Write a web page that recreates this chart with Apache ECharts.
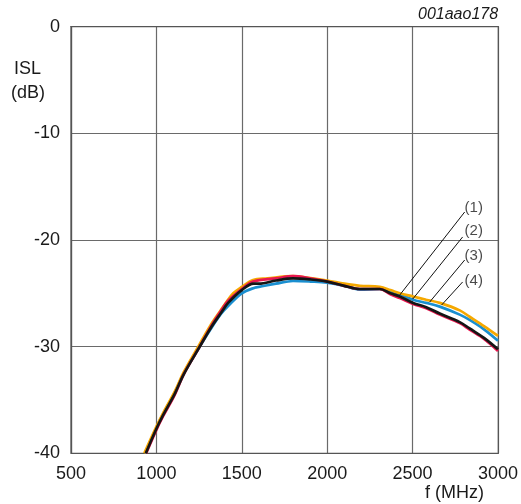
<!DOCTYPE html>
<html><head><meta charset="utf-8">
<script src="https://cdn.jsdelivr.net/npm/echarts@6/dist/echarts.min.js"></script>
<style>html,body{margin:0;padding:0;background:#fff}#c{width:521px;height:504px}</style>
</head><body><div id="c"></div>
<script>
var xTicks = [500, 1000, 1500, 2000, 2500, 3000];
var yTicks = [-40, -30, -20, -10, 0];

var curve4 = [[929,-40],[1000,-37.5],[1040,-36.2],[1108,-34.2],[1160,-32.4],[1245,-30],[1313,-28.1],[1372,-26.7],[1411,-25.8],[1450,-25.0],[1500,-24.4],[1566,-23.75],[1650,-23.6],[1800,-23.4],[1870,-23.5],[2000,-23.8],[2100,-24.1],[2191,-24.3],[2308,-24.4],[2370,-24.7],[2425,-25.0],[2503,-25.3],[2580,-25.6],[2659,-25.9],[2776,-26.6],[2834,-27.2],[2920,-28.1],[3000,-29.0]];
var curve3 = [[935,-40],[1000,-37.6],[1040,-36.3],[1108,-34.3],[1160,-32.5],[1250,-30.1],[1320,-28.3],[1380,-26.9],[1420,-26.2],[1500,-25.0],[1580,-24.45],[1600,-24.4],[1700,-24.1],[1800,-23.85],[1900,-23.9],[2000,-24.0],[2100,-24.3],[2191,-24.65],[2308,-24.6],[2370,-24.8],[2425,-25.07],[2503,-25.6],[2580,-25.9],[2659,-26.25],[2776,-27.0],[2834,-27.5],[2920,-28.4],[3000,-29.45]];
var curve2 = [[940,-40],[1000,-37.8],[1040,-36.5],[1108,-34.5],[1160,-32.6],[1250,-30.1],[1320,-28.1],[1380,-26.6],[1420,-25.7],[1500,-24.6],[1566,-23.9],[1700,-23.6],[1800,-23.4],[1900,-23.6],[2000,-23.9],[2100,-24.3],[2191,-24.6],[2308,-24.6],[2370,-25.1],[2425,-25.45],[2503,-26.0],[2580,-26.4],[2659,-27.0],[2776,-27.8],[2834,-28.4],[2920,-29.3],[3000,-30.4]];
var curve1 = [[938,-40],[1000,-37.7],[1040,-36.4],[1108,-34.4],[1160,-32.6],[1250,-30.1],[1320,-28.2],[1380,-26.8],[1420,-25.9],[1500,-24.7],[1570,-24.1],[1600,-24.1],[1700,-23.8],[1800,-23.6],[1900,-23.7],[2000,-23.9],[2100,-24.3],[2191,-24.6],[2308,-24.6],[2370,-25.0],[2425,-25.3],[2503,-25.9],[2580,-26.3],[2659,-26.9],[2776,-27.7],[2834,-28.3],[2920,-29.2],[3000,-30.25]];

var curveLabels = ['(1)', '(2)', '(3)', '(4)'];
var leaderStart = [[2425,-25.16],[2501,-25.54],[2600,-25.82],[2670,-26.1]];
var leaderEnd = [[2805,-17.38],[2793,-19.72],[2805,-21.88],[2793,-23.94]];
var labelPos = [[2858,-16.96],[2858,-19.16],[2858,-21.5],[2858,-23.85]];

var FONT = 'Liberation Sans, Arial, sans-serif';
var chart = echarts.init(document.getElementById('c'));

function lineSeries(data, color, z) {
  return { type: 'line', data: data, showSymbol: false, smooth: 0.35, z: z,
    lineStyle: { color: color, width: 2.7 }, silent: true, animation: false };
}

var leaderData = leaderStart.map(function (s, i) {
  return [{ coord: s }, { coord: leaderEnd[i] }];
});

chart.setOption({
  animation: false,
  backgroundColor: '#fff',
  grid: { left: 71, right: 22.7, top: 26.6, bottom: 50.7 },
  xAxis: {
    type: 'value', min: 500, max: 3000, interval: 500,
    axisLine: { show: true, lineStyle: { color: '#555', width: 1.2 } },
    axisTick: { show: false },
    splitLine: { show: true, lineStyle: { color: '#6a6a6a', width: 1.2 } },
    axisLabel: { color: '#1a1a1a', fontSize: 18, fontFamily: FONT, margin: 12,
      formatter: function (v) { return xTicks.indexOf(v) >= 0 ? String(v) : ''; } }
  },
  yAxis: {
    type: 'value', min: -40, max: 0, interval: 10,
    axisLine: { show: true, lineStyle: { color: '#555', width: 1.2 } },
    axisTick: { show: false },
    splitLine: { show: true, lineStyle: { color: '#6a6a6a', width: 1.2 } },
    axisLabel: { color: '#1a1a1a', fontSize: 18, fontFamily: FONT, margin: 11,
      formatter: function (v) { return yTicks.indexOf(v) >= 0 ? String(v) : ''; } }
  },
  graphic: [
    { type: 'text', left: 418, top: 7, style: { text: '001aao178', fontSize: 16, fontStyle: 'italic', fontFamily: FONT, fill: '#1a1a1a' } },
    { type: 'text', left: 14, top: 60, style: { text: 'ISL', fontSize: 18, fontFamily: FONT, fill: '#1a1a1a' } },
    { type: 'text', left: 11, top: 84, style: { text: '(dB)', fontSize: 18, fontFamily: FONT, fill: '#1a1a1a' } },
    { type: 'text', left: 425, top: 484, style: { text: 'f (MHz)', fontSize: 18, fontFamily: FONT, fill: '#1a1a1a' } },
    { type: 'rect', shape: { x: 71, y: 26.6, width: 427.3, height: 426.7 }, style: { fill: 'none', stroke: '#555', lineWidth: 1.2 }, z: 1 }
  ],
  series: [
    lineSeries(curve3, '#1a8fd0', 3),
    lineSeries(curve4, '#f5a800', 4),
    lineSeries(curve2, '#e8174f', 5),
    lineSeries(curve1, '#151515', 6),
    { type: 'scatter', symbolSize: 0, silent: true, z: 8,
      data: labelPos.map(function (p, i) { return { value: p, name: curveLabels[i] }; }),
      label: { show: true, position: 'inside', formatter: '{b}', color: '#1a1a1a', fontSize: 15, fontFamily: FONT },
      markLine: { silent: true, symbol: 'none', animation: false,
        lineStyle: { color: '#111', width: 1, type: 'solid' }, label: { show: false },
        data: leaderData } }
  ]
});
</script></body></html>
